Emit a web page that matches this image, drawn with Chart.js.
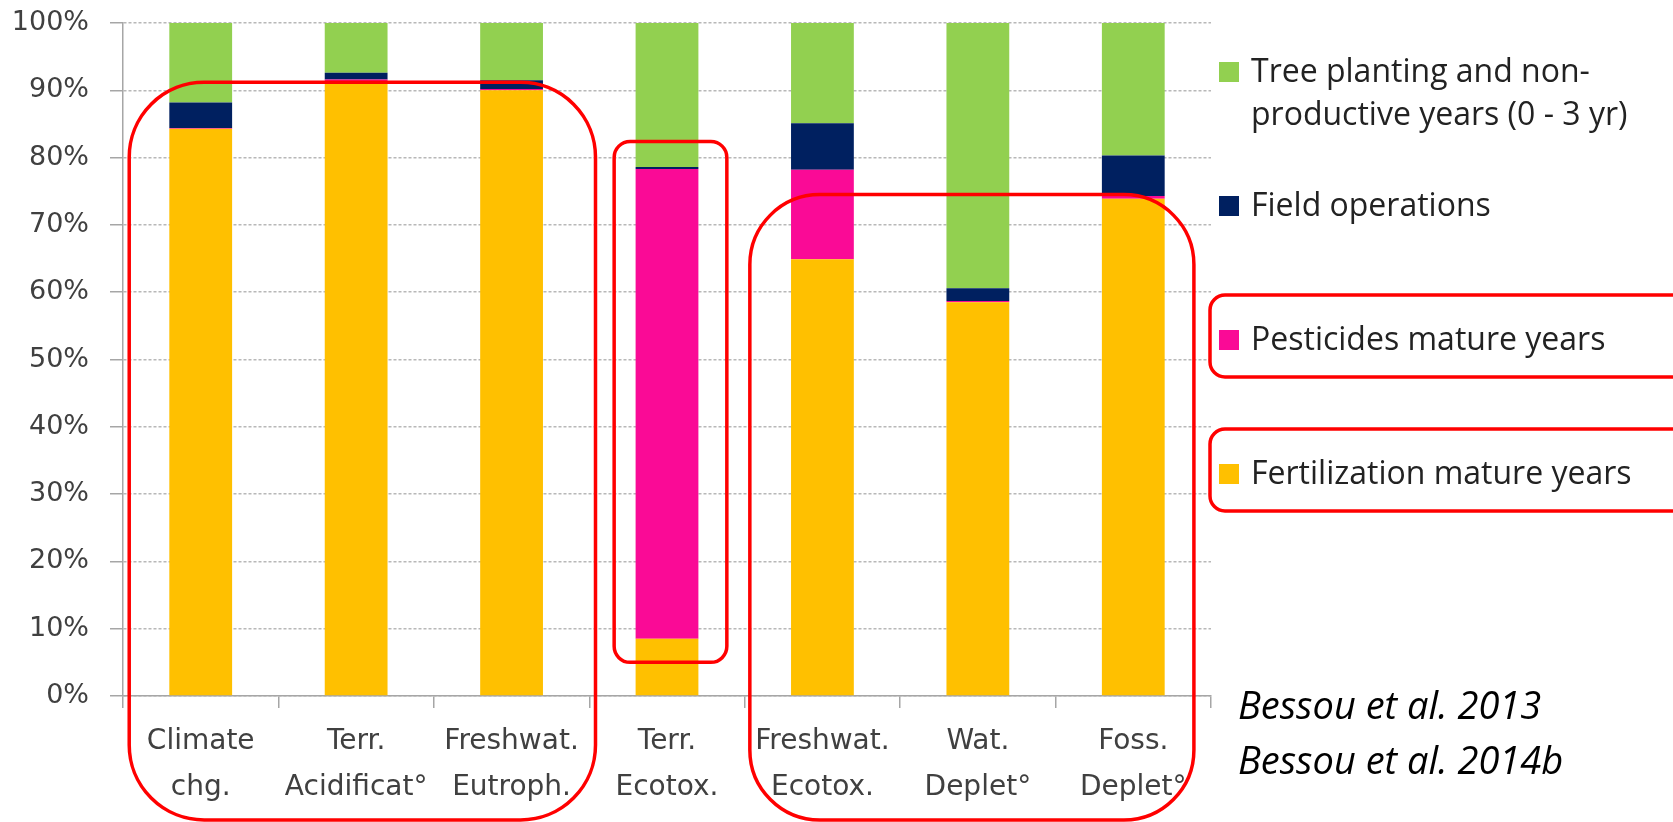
<!DOCTYPE html>
<html lang="en">
  <head>
    <meta charset="utf-8" />
    <title>Impact contributions by stage</title>
    <style>
      * {
        margin: 0;
        padding: 0;
      }
      body {
        background: #ffffff;
      }
      .chartBox {
        width: 1673px;
        height: 822px;
      }
    </style>
  </head>
  <body>
    <div class="chartBox">
      <canvas id="myChart"></canvas>
    </div>
    <script src="https://cdn.jsdelivr.net/npm/chart.js"></script>
    <script>
      // data (% of each impact category)
      const categories = [
        ['Climate', 'chg.'],
        ['Terr.', 'Acidificat°'],
        ['Freshwat.', 'Eutroph.'],
        ['Terr.', 'Ecotox.'],
        ['Freshwat.', 'Ecotox.'],
        ['Wat.', 'Deplet°'],
        ['Foss.', 'Deplet°'],
      ];
      const fertilization = [84.3, 91.4, 90.0, 8.5, 64.9, 58.5, 73.9];
      const pesticides = [0.1, 0.2, 0.2, 69.8, 13.3, 0.2, 0.4];
      const fieldOperations = [3.8, 1.0, 1.3, 0.3, 6.9, 1.9, 6.0];
      const treePlanting = [11.8, 7.4, 8.5, 21.4, 14.9, 39.4, 19.7];
      const yTicks = [0, 10, 20, 30, 40, 50, 60, 70, 80, 90, 100];

      const seriesLabels = [
        ['Fertilization mature years'],
        ['Pesticides mature years'],
        ['Field operations'],
        ['Tree planting and non-', 'productive years (0 - 3 yr)'],
      ];
      const seriesColors = ['#FFC000', '#FA0A96', '#002060', '#92D050'];
      const legendHighlight = ['Pesticides mature years', 'Fertilization mature years'];
      const citations = ['Bessou et al. 2013', 'Bessou et al. 2014b'];

      // red outlines: category span on x, percent on y (null = down to the page edge)
      const outlines = [
        { from: -0.46, to: 2.54, top: 91.2, bottom: null, radius: 75 },
        { from: 2.66, to: 3.385, top: 82.4, bottom: 5.0, radius: 16 },
        { from: 3.533, to: 6.39, top: 74.5, bottom: null, radius: 70 },
      ];

      const seriesValues = [fertilization, pesticides, fieldOperations, treePlanting];

      const data = {
        labels: categories,
        datasets: seriesValues.map((values, i) => ({
          label: seriesLabels[i].join(' '),
          legendLines: seriesLabels[i],
          data: values,
          backgroundColor: seriesColors[i],
          borderWidth: 0,
          barPercentage: 0.404,
          categoryPercentage: 1,
        })),
      };

      function roundRect(ctx, x1, y1, x2, y2, r) {
        ctx.beginPath();
        ctx.moveTo(x1 + r, y1);
        ctx.arcTo(x2, y1, x2, y2, r);
        ctx.arcTo(x2, y2, x1, y2, r);
        ctx.arcTo(x1, y2, x1, y1, r);
        ctx.arcTo(x1, y1, x2, y1, r);
        ctx.closePath();
        ctx.stroke();
      }

      // legend, citation and red outlines
      const overlay = {
        id: 'overlay',
        afterDraw(chart) {
          const ctx = chart.ctx;
          const xs = chart.scales.x;
          const ys = chart.scales.y;
          const area = chart.chartArea;
          ctx.save();

          // legend (top item = last dataset)
          const legendX = area.right + 8;
          const legendTop = 82;
          const step = 134;
          const box = 20;
          const items = chart.data.datasets.slice().reverse();
          items.forEach((ds, i) => {
            const base = legendTop + i * step;
            ctx.fillStyle = ds.backgroundColor;
            ctx.fillRect(legendX, base - box, box, box);
            ctx.fillStyle = '#222222';
            ctx.font = '32px "Open Sans"';
            ctx.textBaseline = 'alphabetic';
            ctx.textAlign = 'left';
            ds.legendLines.forEach((ln, j) => {
              ctx.fillText(ln, legendX + box + 12, base + j * 43);
            });
            if (legendHighlight.includes(ds.label)) {
              ctx.strokeStyle = '#FF0000';
              ctx.lineWidth = 3.5;
              roundRect(ctx, legendX - 9, base - 55, chart.width + 20, base + 27, 15);
            }
          });

          // citation
          ctx.fillStyle = '#000000';
          ctx.font = 'italic 38px "Open Sans"';
          citations.forEach((c, i) => {
            ctx.fillText(c, area.right + 27, 719 + i * 55);
          });

          // outlines over the bars
          ctx.strokeStyle = '#FF0000';
          ctx.lineWidth = 3.5;
          outlines.forEach((o) => {
            const x1 = xs.getPixelForValue(0) + o.from * (xs.getPixelForValue(1) - xs.getPixelForValue(0));
            const x2 = xs.getPixelForValue(0) + o.to * (xs.getPixelForValue(1) - xs.getPixelForValue(0));
            const y1 = ys.getPixelForValue(o.top);
            const y2 = o.bottom === null ? chart.height - 2 : ys.getPixelForValue(o.bottom);
            roundRect(ctx, x1, y1, x2, y2, o.radius);
          });
          ctx.restore();
        },
      };

      const config = {
        type: 'bar',
        data,
        options: {
          responsive: true,
          maintainAspectRatio: false,
          animation: false,
          layout: {
            padding: { top: 23, right: 462, left: 0, bottom: 0 },
          },
          plugins: {
            legend: { display: false },
            tooltip: { enabled: false },
          },
          scales: {
            x: {
              stacked: true,
              grid: {
                offset: true,
                drawOnChartArea: false,
                drawTicks: true,
                tickLength: 12,
                color: '#a6a6a6',
                lineWidth: 1.5,
              },
              border: { display: true, color: '#a6a6a6', width: 1.5 },
              ticks: {
                color: '#404040',
                font: { family: 'DejaVu Sans', size: 28, lineHeight: 1.63 },
                padding: 11,
                maxRotation: 0,
                autoSkip: false,
              },
              afterFit: (s) => {
                s.height = 126;
                s.paddingLeft = 0;
                s.paddingRight = 0;
              },
            },
            y: {
              stacked: true,
              min: 0,
              max: 100,
              afterBuildTicks: (s) => {
                s.ticks = yTicks.map((v) => ({ value: v }));
              },
              ticks: {
                color: '#404040',
                font: { family: 'DejaVu Sans', size: 27 },
                padding: 21,
                callback: (v) => v + '%',
              },
              grid: {
                color: '#b8b8b8',
                lineWidth: 1.5,
                tickLength: 13,
                tickColor: '#a6a6a6',
                tickBorderDash: [],
              },
              border: { display: true, color: '#a6a6a6', width: 1.5, dash: [3, 2] },
              afterFit: (s) => {
                s.width = 123;
                s.paddingTop = 0;
                s.paddingBottom = 0;
              },
            },
          },
        },
        plugins: [overlay],
      };

      const myChart = new Chart(document.getElementById('myChart'), config);
    </script>
  </body>
</html>
